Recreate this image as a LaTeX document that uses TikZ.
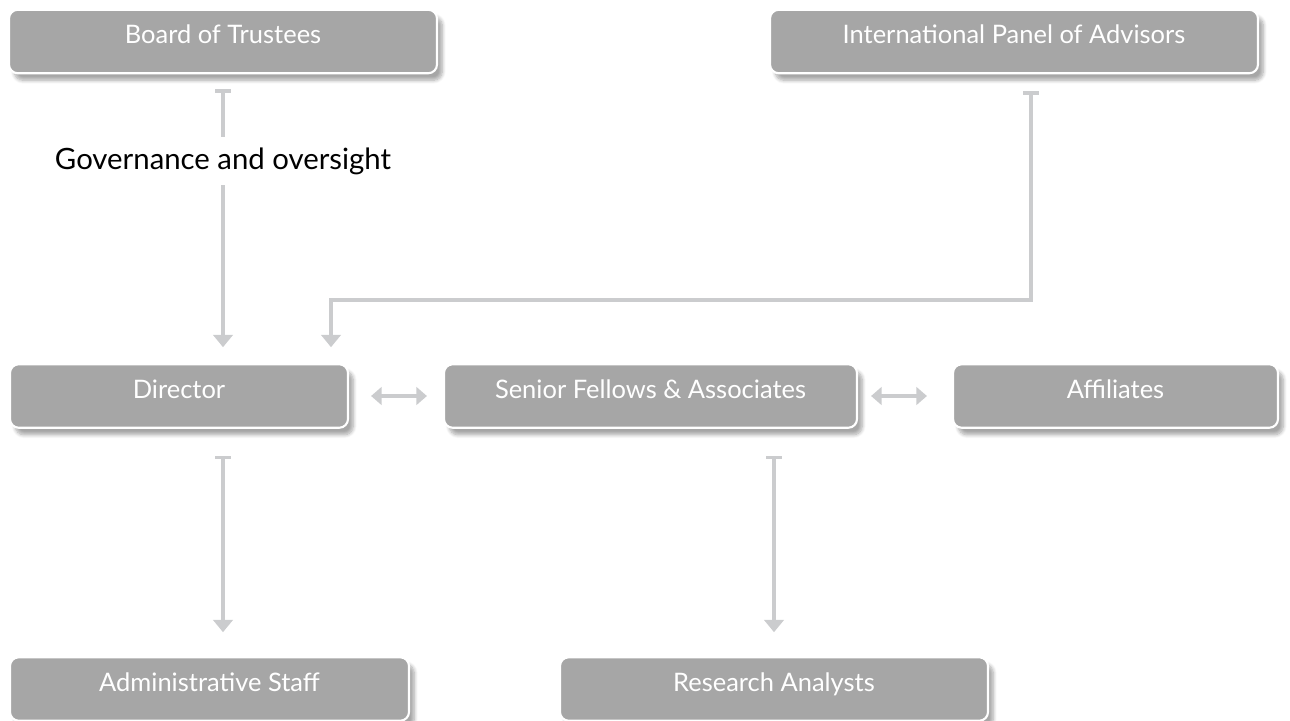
\documentclass[tikz,border=0pt]{standalone}
\usepackage{fontspec}
\setmainfont{Lato}
\usetikzlibrary{arrows.meta,shadows.blur,calc}
\definecolor{boxgray}{HTML}{A6A6A6}
\definecolor{linegray}{HTML}{CBCCCE}
\begin{document}
\begin{tikzpicture}[x=0.02cm,y=-0.02cm,
		unit/.style={draw=white, line width=1.2pt, fill=boxgray, rounded corners=5pt, text=white,
			font=\fontsize{14.5}{17}\selectfont, minimum height=1.27cm, inner sep=0pt,
			text height=8pt, text depth=5.6pt,
			blur shadow={shadow xshift=3pt, shadow yshift=-4pt, shadow blur steps=8, shadow opacity=35}},
		conn/.style={draw=linegray, line width=2pt, {Bar[width=9pt]}-{Triangle[width=11pt,length=7pt]}},
		both/.style={draw=linegray, line width=2pt, {Triangle[width=10pt,length=6pt]}-{Triangle[width=10pt,length=6pt]}}]
		\useasboundingbox (0,0) rectangle (1290,720);
		\clip (0,0) rectangle (1290,720);
		\foreach \n/\x/\y/\w/\t in {board/223/41.5/428/Board of Trustees,
			panel/1014/41.5/488/International Panel of Advisors,
			director/179/396/338/Director,
			senior/650.5/396/413/Senior Fellows \& Associates,
			affil/1115.5/396/325/Affiliates,
			admin/209.5/689/399/Administrative Staff,
			research/774/689/428/Research Analysts}{
			\node[unit, minimum width=\w*0.02cm] (\n) at (\x,\y) {\t};
		}
		%
		% connectors
		%
		\draw[conn, shorten <=15*0.02cm, shorten >=16*0.02cm] (board.south) -- (board.south |- director.north)
			node[pos=0.3, fill=white, text=black, font=\fontsize{16.7}{19}\selectfont, inner sep=6pt] (gov) {Governance and oversight};
		\coordinate (bend) at (331,300);
		\draw[conn, shorten <=17*0.02cm, shorten >=16*0.02cm] ($(panel.south)+(17,0)$) |- (bend) -- (bend |- director.north);
		\draw[both, shorten <=22*0.02cm, shorten >=16*0.02cm] (director.east) -- (senior.west);
		\draw[both, shorten <=13*0.02cm, shorten >=25*0.02cm] (senior.east) -- (affil.west);
		\draw[conn, shorten <=27*0.02cm, shorten >=24*0.02cm] ([xshift=0.88cm]director.south) -- ([xshift=0.88cm]director.south |- admin.north);
		\draw[conn, shorten <=27*0.02cm, shorten >=24*0.02cm] (senior.south -| research.north) -- (research.north);
	\end{tikzpicture}
\end{document}
